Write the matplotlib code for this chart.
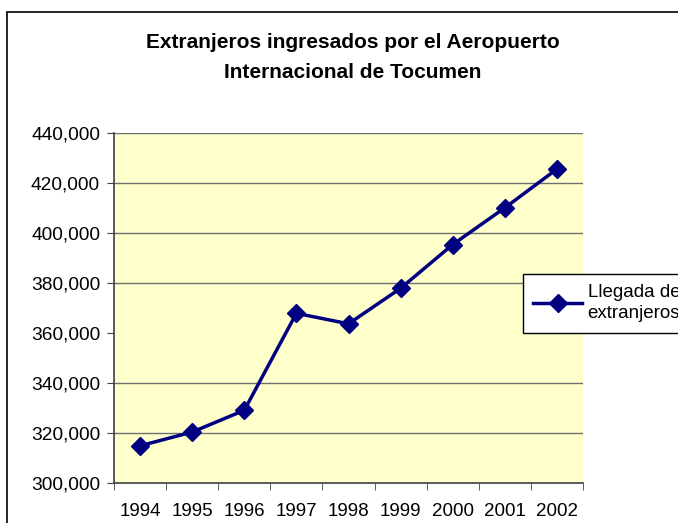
import numpy as np
import matplotlib
matplotlib.use("Agg")
import matplotlib.pyplot as plt
from matplotlib.patches import Rectangle
from matplotlib.ticker import FuncFormatter

# datos
years = ["1994", "1995", "1996", "1997", "1998", "1999", "2000", "2001", "2002"]
llegadas = [315000, 320500, 329200, 368000, 363800, 378000, 395500, 410200, 425700]
grid_levels = [320000, 340000, 380000, 400000, 420000, 440000]

plt.rcParams['font.family'] = ['Liberation Sans', 'DejaVu Sans']

fig = plt.figure(figsize=(6.78, 5.23), dpi=100)
fig.patch.set_facecolor('white')

# marco exterior del grafico
fig.patches.append(Rectangle((7/678, -0.05), 1.1, 1 - 12/523 + 0.05,
                             transform=fig.transFigure, fill=False,
                             edgecolor='black', linewidth=1.2, clip_on=False))

ax = fig.add_axes([114/678, 39.7/523, 469/678, 350/523])
ax.set_facecolor('#FFFFCC')

x = np.arange(len(years))
for g in grid_levels:
    ax.axhline(g, color='#707070', linewidth=1.0, zorder=1)

ax.plot(x, llegadas, color='#000080', linewidth=2.5, marker='D',
        markersize=9.5, label='Llegada de\nextranjeros', zorder=3)

ax.set_xlim(-0.5, len(years) - 0.5)
ax.set_ylim(300000, 440000)
ax.set_yticks(np.arange(300000, 440001, 20000))
ax.yaxis.set_major_formatter(FuncFormatter(lambda v, p: f"{int(v):,}"))

ax.set_xticks(x)
ax.set_xticklabels(years)
ax.set_xticks(np.arange(-0.5, len(years)), minor=True)
ax.tick_params(axis='x', which='major', length=0, pad=14, labelsize=13.5)
ax.tick_params(axis='x', which='minor', length=5, color='#404040')
ax.tick_params(axis='y', length=5, color='#404040', labelsize=13.8, pad=5)

for s in ['top', 'right']:
    ax.spines[s].set_visible(False)
for s in ['left', 'bottom']:
    ax.spines[s].set_color('#404040')
    ax.spines[s].set_linewidth(1.2)

fig.text(353/678, 1 - 42/523, "Extranjeros ingresados por el Aeropuerto",
         ha='center', va='center', fontsize=15, fontweight='bold')
fig.text(353/678, 1 - 73/523, "Internacional de Tocumen",
         ha='center', va='center', fontsize=15, fontweight='bold')

leg = ax.legend(loc='upper left', bbox_to_anchor=(523/678, 1 - 274/523),
                bbox_transform=fig.transFigure, borderaxespad=0,
                fancybox=False, framealpha=1, edgecolor='black',
                fontsize=13.5, handlelength=2.6, handletextpad=0.3,
                borderpad=0.55)
leg.get_frame().set_linewidth(1.0)
leg.get_texts()[0].set_linespacing(1.3)

fig.savefig("out.png", dpi=100)
